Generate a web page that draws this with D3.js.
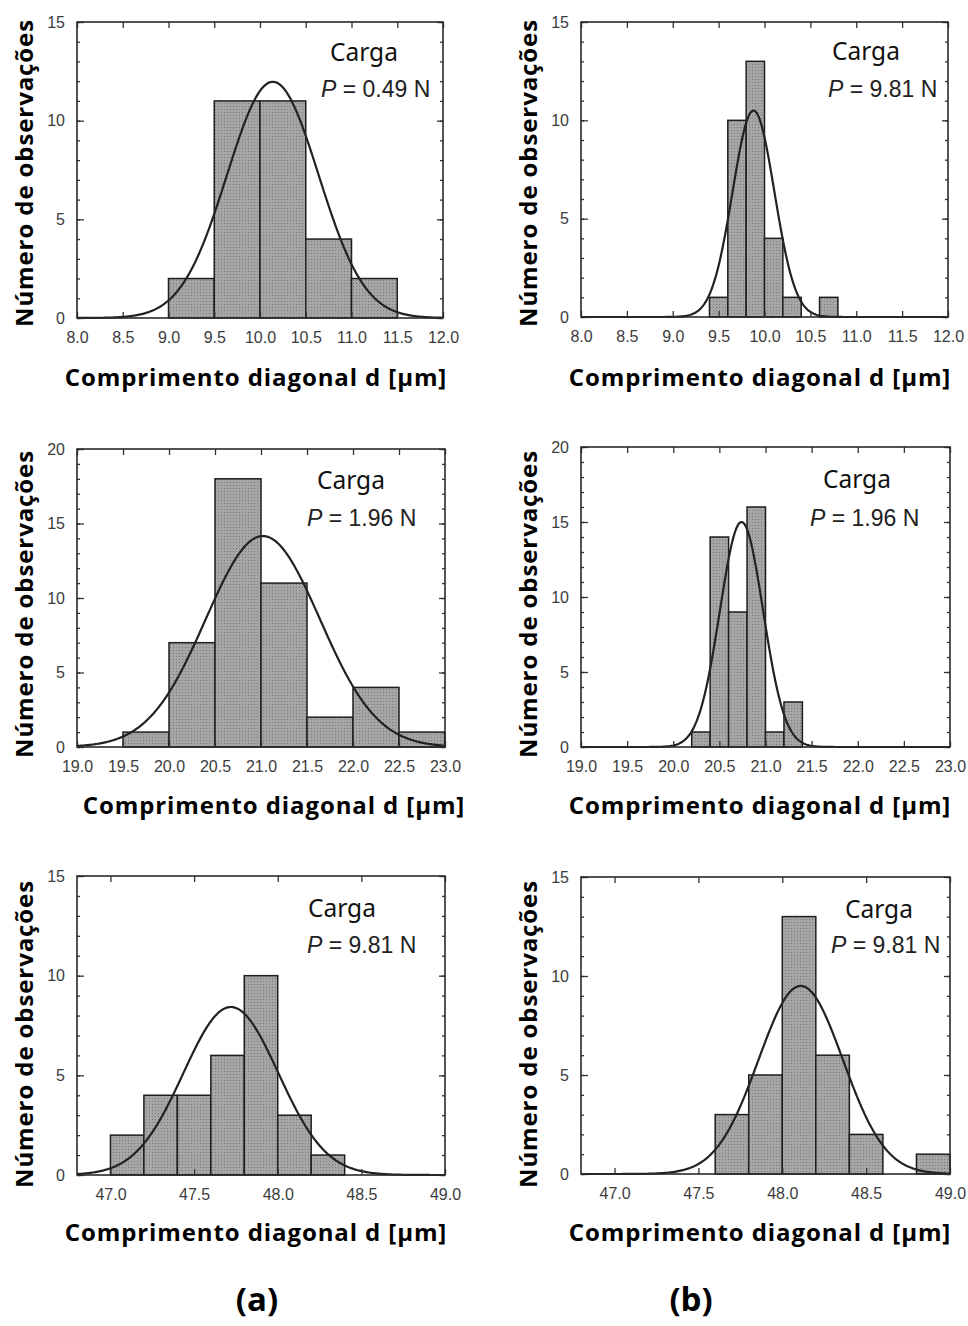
<!DOCTYPE html>
<html>
<head>
<meta charset="utf-8">
<script src="https://cdn.jsdelivr.net/npm/d3@7"></script>
<style>
  body { margin: 0; background: #fff; }
  .tick text { font-family: "Liberation Sans", Arial, sans-serif; font-size: 16px; fill: #3c3c3c; }
  .tick line { stroke: #333; stroke-width: 1.3; }
  .domain { display: none; }
</style>
</head>
<body>
<div id="chart"></div>
<script>
// histogram data, one entry per panel: (a) row1, (b) row1, (a) row2, (b) row2, (a) row3, (b) row3
const firstEdge = [9.0, 9.4, 19.5, 20.2, 47.0, 47.6];
const binWidth  = [0.5, 0.2, 0.5, 0.2, 0.2, 0.2];
const counts = [
  [2, 11, 11, 4, 2],
  [1, 10, 13, 4, 1, 0, 1],
  [1, 7, 18, 11, 2, 4, 1],
  [1, 14, 9, 16, 1, 3],
  [2, 4, 4, 6, 10, 3, 1],
  [3, 5, 13, 6, 2, 0, 1]
];
// fitted normal curves
const fitMean = [10.14, 9.88, 21.02, 20.74, 47.72, 48.11];
const fitSd   = [0.50, 0.228, 0.62, 0.234, 0.284, 0.252];
const loads   = ["0.49", "9.81", "1.96", "1.96", "9.81", "9.81"];

const xTicks8  = [8.0, 8.5, 9.0, 9.5, 10.0, 10.5, 11.0, 11.5, 12.0];
const xTicks19 = [19.0, 19.5, 20.0, 20.5, 21.0, 21.5, 22.0, 22.5, 23.0];
const xTicks47 = [47.0, 47.5, 48.0, 48.5, 49.0];
const yTicks15 = [0, 5, 10, 15];
const yTicks20 = [0, 5, 10, 15, 20];

const xTitle = "Comprimento diagonal d [\u03bcm]";
const yTitle = "Número de observações";

// layout only
const panels = [
  { left: 77,  top: 22,  w: 366, h: 296, xd: [8, 12],    xt: xTicks8,  ymax: 15, yt: yTicks15, xtc: 256, xtb: 386, ytc: 173,  carga: [330, 61],  pl: [321, 97] },
  { left: 581, top: 22,  w: 367, h: 295, xd: [8, 12],    xt: xTicks8,  ymax: 15, yt: yTicks15, xtc: 760, xtb: 386, ytc: 173,  carga: [832, 60],  pl: [828, 97] },
  { left: 77,  top: 449, w: 368, h: 298, xd: [19, 23],   xt: xTicks19, ymax: 20, yt: yTicks20, xtc: 274, xtb: 814, ytc: 604,  carga: [317, 489], pl: [307, 526] },
  { left: 581, top: 447, w: 369, h: 300, xd: [19, 23],   xt: xTicks19, ymax: 20, yt: yTicks20, xtc: 760, xtb: 814, ytc: 604,  carga: [823, 488], pl: [810, 526] },
  { left: 77,  top: 876, w: 368, h: 299, xd: [46.8, 49], xt: xTicks47, ymax: 15, yt: yTicks15, xtc: 256, xtb: 1241, ytc: 1034, carga: [308, 917], pl: [307, 953] },
  { left: 581, top: 877, w: 369, h: 297, xd: [46.8, 49], xt: xTicks47, ymax: 15, yt: yTicks15, xtc: 760, xtb: 1241, ytc: 1034, carga: [845, 918], pl: [831, 953] }
];

const W = 968, H = 1326;
const svg = d3.select("#chart").append("svg")
  .attr("width", W)
  .attr("height", H);

// stippled gray fill for the bars
const pat = svg.append("defs").append("pattern")
  .attr("id", "dots")
  .attr("width", 3).attr("height", 3)
  .attr("patternUnits", "userSpaceOnUse");
pat.append("rect").attr("width", 3).attr("height", 3).attr("fill", "#a6a6a6");
pat.append("rect").attr("width", 1).attr("height", 1).attr("fill", "#7a7a7a");

panels.forEach((p, i) => {
  const x = d3.scaleLinear().domain(p.xd).range([0, p.w]);
  const y = d3.scaleLinear().domain([0, p.ymax]).range([p.h, 0]);
  const minor = d3.range(0, p.ymax + 1);

  const g = svg.append("g").attr("transform", `translate(${p.left},${p.top})`);

  // bars
  const bins = counts[i].map((c, k) => ({
    x0: firstEdge[i] + k * binWidth[i],
    x1: firstEdge[i] + (k + 1) * binWidth[i],
    c: c
  })).filter(b => b.c > 0);

  g.selectAll("rect.bar")
    .data(bins)
    .enter().append("rect")
    .attr("class", "bar")
    .attr("x", d => x(d.x0))
    .attr("width", d => x(d.x1) - x(d.x0))
    .attr("y", d => y(d.c))
    .attr("height", d => y(0) - y(d.c))
    .attr("fill", "url(#dots)")
    .attr("stroke", "#1e1e1e")
    .attr("stroke-width", 1.5);

  // normal fit, scaled to counts
  const n = d3.sum(counts[i]);
  const m = fitMean[i], s = fitSd[i];
  const fit = v => n * binWidth[i] * Math.exp(-((v - m) * (v - m)) / (2 * s * s)) / (s * Math.sqrt(2 * Math.PI));
  const xs = d3.range(0, 301).map(k => p.xd[0] + (p.xd[1] - p.xd[0]) * k / 300);
  g.append("path")
    .datum(xs)
    .attr("fill", "none")
    .attr("stroke", "#222")
    .attr("stroke-width", 2.2)
    .attr("d", d3.line().x(d => x(d)).y(d => y(fit(d))));

  // axes, ticks pointing inward
  g.append("g")
    .attr("transform", `translate(0,${p.h})`)
    .call(d3.axisBottom(x).tickValues(p.xt).tickFormat(d3.format(".1f")).tickSize(-6).tickPadding(14));
  g.append("g")
    .call(d3.axisTop(x).tickValues(p.xt).tickFormat("").tickSize(-6));
  g.append("g")
    .call(d3.axisLeft(y).tickValues(minor).tickFormat("").tickSize(-3));
  g.append("g")
    .call(d3.axisLeft(y).tickValues(p.yt).tickSize(-7).tickPadding(12));
  g.append("g")
    .attr("transform", `translate(${p.w},0)`)
    .call(d3.axisRight(y).tickValues(minor).tickFormat("").tickSize(-3));
  g.append("g")
    .attr("transform", `translate(${p.w},0)`)
    .call(d3.axisRight(y).tickValues(p.yt).tickFormat("").tickSize(-6));

  // frame
  g.append("rect")
    .attr("width", p.w).attr("height", p.h)
    .attr("fill", "none")
    .attr("stroke", "#2a2a2a")
    .attr("stroke-width", 1.6);

  // load label
  svg.append("text")
    .attr("x", p.carga[0]).attr("y", p.carga[1])
    .attr("font-family", "'Noto Sans', 'Open Sans', sans-serif")
    .attr("font-size", 24.5)
    .attr("fill", "#111")
    .text("Carga");
  const t = svg.append("text")
    .attr("x", p.pl[0]).attr("y", p.pl[1])
    .attr("font-family", "'Liberation Sans', Arial, sans-serif")
    .attr("font-size", 23)
    .attr("fill", "#222");
  t.append("tspan").attr("font-style", "italic").text("P");
  t.append("tspan").text(` = ${loads[i]} N`);

  // axis titles
  svg.append("text")
    .attr("x", p.xtc).attr("y", p.xtb)
    .attr("text-anchor", "middle")
    .attr("font-family", "'Open Sans', sans-serif")
    .attr("font-weight", "bold")
    .attr("font-size", 24)
    .attr("letter-spacing", 0.9)
    .attr("fill", "#000")
    .text(xTitle);
  svg.append("text")
    .attr("transform", `translate(${p.left - 44},${p.ytc}) rotate(-90)`)
    .attr("text-anchor", "middle")
    .attr("font-family", "'Open Sans', sans-serif")
    .attr("font-weight", "bold")
    .attr("font-size", 24)
    .attr("letter-spacing", 0.9)
    .attr("fill", "#000")
    .text(yTitle);
});

// column labels
[["(a)", 257], ["(b)", 691]].forEach(([lab, cx]) => {
  svg.append("text")
    .attr("x", cx).attr("y", 1311)
    .attr("text-anchor", "middle")
    .attr("font-family", "'Open Sans', sans-serif")
    .attr("font-weight", "bold")
    .attr("font-size", 33)
    .attr("fill", "#000")
    .text(lab);
});
</script>
</body>
</html>
